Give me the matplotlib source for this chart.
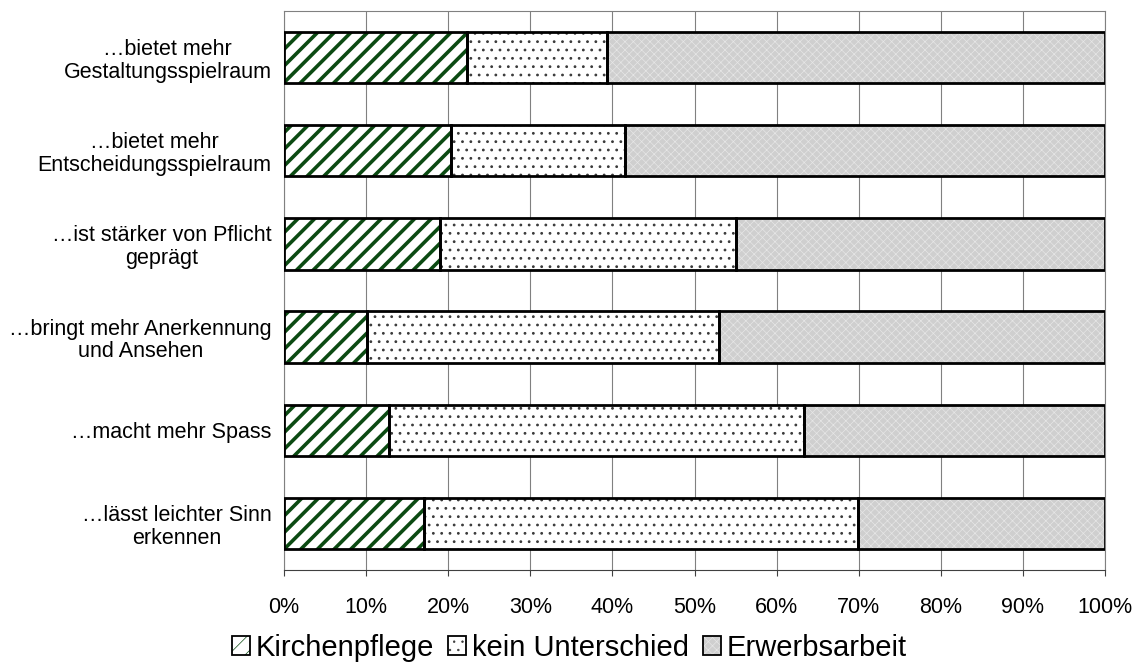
import numpy as np
import matplotlib
matplotlib.use('Agg')
import matplotlib.pyplot as plt
from matplotlib.patches import Patch
from matplotlib.legend_handler import HandlerTuple
from matplotlib.ticker import PercentFormatter

plt.rcParams['font.family'] = ['Liberation Sans', 'DejaVu Sans']

categories = ['\u2026bietet mehr\nGestaltungsspielraum',
              '\u2026bietet mehr\nEntscheidungsspielraum',
              '\u2026ist st\u00e4rker von Pflicht\ngepr\u00e4gt',
              '\u2026bringt mehr Anerkennung\nund Ansehen',
              '\u2026macht mehr Spass',
              '\u2026l\u00e4sst leichter Sinn\nerkennen']
kirchenpflege = [22.3, 20.3, 19.0, 10.1, 12.8, 17.1]
kein_unterschied = [17.0, 21.2, 36.1, 42.9, 50.5, 52.8]
erwerbsarbeit = [60.7, 58.5, 44.9, 47.0, 36.7, 30.1]
series_names = ['Kirchenpflege', 'kein Unterschied', 'Erwerbsarbeit']

# (facecolor, hatch, hatch colour, hatch linewidth)
styles = [('white', '//', '#0b4a12', 2.6),
          ('white', '..', '#3a3a3a', 0.8),
          ('#cfcfcf', 'xxxx', '#e6e6e6', 0.5)]

fig = plt.figure(figsize=(11.39, 6.65), dpi=100)
ax = fig.add_axes([284 / 1139, 1 - 570 / 665, (1105 - 284) / 1139, (570 - 11) / 665])

y = np.arange(len(categories))
left = np.zeros(len(categories))
handles = []
for vals, name, (fc, hatch, hc, hlw) in zip(
        [kirchenpflege, kein_unterschied, erwerbsarbeit], series_names, styles):
    vals = np.array(vals)
    plt.rcParams['hatch.linewidth'] = hlw
    ax.barh(y, vals, left=left, height=0.55, color=fc, hatch=hatch,
            edgecolor=hc, linewidth=0, zorder=2)
    ax.barh(y, vals, left=left, height=0.55, fill=False,
            edgecolor='black', linewidth=2.0, zorder=3)
    left += vals
    h_fill = Patch(facecolor=fc, hatch=hatch, edgecolor=hc, linewidth=0)
    h_edge = Patch(fill=False, edgecolor='black', linewidth=1.3)
    handles.append((h_fill, h_edge))

ax.set_xlim(0, 100)
ax.set_ylim(len(categories) - 0.5, -0.5)
ax.set_xticks(np.arange(0, 101, 10))
ax.xaxis.set_major_formatter(PercentFormatter(decimals=0))
ax.set_yticks(y)
ax.set_yticklabels(categories, linespacing=1.1)
for lbl in ax.get_yticklabels():
    lbl.set_multialignment('center')
ax.tick_params(axis='y', length=0, pad=9, labelsize=15.5)
ax.tick_params(axis='x', length=4.5, width=0.8, color='#404040', pad=15, labelsize=15.5)

ax.grid(axis='x', color='#808080', linewidth=0.8, zorder=0)
ax.set_axisbelow(True)
for side in ['top', 'left', 'right']:
    ax.spines[side].set_color('#808080')
    ax.spines[side].set_linewidth(0.8)
ax.spines['bottom'].set_color('#404040')
ax.spines['bottom'].set_linewidth(0.8)

fig.legend(handles, series_names, loc='center', bbox_to_anchor=(0.5, 1 - 648 / 665),
           ncol=3, frameon=False, fontsize=21, handlelength=0.6, handleheight=0.6,
           handletextpad=0.2, columnspacing=0.5,
           handler_map={tuple: HandlerTuple(ndivide=1)})

fig.savefig('out.png', dpi=100)
